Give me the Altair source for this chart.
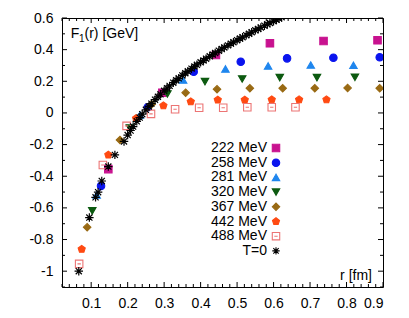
import altair as alt
import pandas as pd
import numpy as np

# ---- data ----
series_names = ["222 MeV", "258 MeV", "281 MeV", "320 MeV", "367 MeV", "442 MeV", "488 MeV", "T=0"]

r_222 = [0.147, 0.295, 0.442, 0.590, 0.737, 0.885]
f_222 = [-0.355, 0.128, 0.366, 0.440, 0.455, 0.459]

r_258 = [0.127, 0.255, 0.381, 0.510, 0.637, 0.764, 0.891]
f_258 = [-0.461, 0.036, 0.261, 0.324, 0.345, 0.349, 0.352]

r_281 = [0.115, 0.234, 0.352, 0.468, 0.585, 0.702, 0.819]
f_281 = [-0.518, -0.013, 0.208, 0.278, 0.297, 0.303, 0.301]

r_320 = [0.103, 0.206, 0.309, 0.412, 0.514, 0.617, 0.719, 0.823]
f_320 = [-0.619, -0.095, 0.120, 0.198, 0.215, 0.223, 0.223, 0.225]

r_367 = [0.089, 0.179, 0.266, 0.359, 0.445, 0.535, 0.625, 0.713, 0.803, 0.891]
f_367 = [-0.722, -0.171, 0.055, 0.128, 0.150, 0.156, 0.156, 0.156, 0.158, 0.156]

r_442 = [0.074, 0.147, 0.223, 0.298, 0.373, 0.447, 0.521, 0.595, 0.670, 0.745]
f_442 = [-0.861, -0.265, -0.034, 0.046, 0.071, 0.082, 0.082, 0.084, 0.084, 0.084]

r_488 = [0.067, 0.132, 0.197, 0.264, 0.330, 0.396, 0.462, 0.528, 0.595, 0.660]
f_488 = [-0.954, -0.329, -0.082, -0.006, 0.023, 0.033, 0.033, 0.036, 0.036, 0.036]

r_t0 = [0.066, 0.095, 0.112, 0.119, 0.129, 0.147, 0.165, 0.190, 0.200, 0.208,
        0.215, 0.225, 0.233, 0.240, 0.250, 0.258, 0.265, 0.275, 0.283, 0.290,
        0.300, 0.308, 0.315, 0.325, 0.333, 0.340, 0.350, 0.358, 0.365, 0.375,
        0.383, 0.390, 0.400, 0.408, 0.415, 0.425, 0.433, 0.440, 0.450, 0.458,
        0.465, 0.475, 0.483, 0.490, 0.500, 0.508, 0.515, 0.525, 0.533, 0.540,
        0.550, 0.558, 0.565, 0.575, 0.583, 0.590, 0.600, 0.608, 0.615, 0.622]
f_t0 = [-1.000, -0.661, -0.533, -0.501, -0.430, -0.339, -0.265, -0.180, -0.140, -0.111,
        -0.086, -0.053, -0.029, -0.008, 0.020, 0.041, 0.059, 0.084, 0.102, 0.118,
        0.140, 0.156, 0.171, 0.191, 0.206, 0.219, 0.237, 0.251, 0.263, 0.280,
        0.293, 0.304, 0.320, 0.332, 0.343, 0.358, 0.369, 0.379, 0.393, 0.404,
        0.414, 0.427, 0.438, 0.447, 0.460, 0.470, 0.479, 0.491, 0.501, 0.510,
        0.522, 0.531, 0.540, 0.551, 0.560, 0.569, 0.580, 0.589, 0.597, 0.605]

x_major = [0.1, 0.2, 0.3, 0.4, 0.5, 0.6, 0.7, 0.8, 0.9]
y_major = [-1.0, -0.8, -0.6, -0.4, -0.2, 0.0, 0.2, 0.4, 0.6]
x_minor = [round(v, 2) for v in np.arange(0.02, 0.9001, 0.02) if abs(round(v * 10) - v * 10) > 1e-6]
y_minor = [-1.1, -0.9, -0.7, -0.5, -0.3, -0.1, 0.1, 0.3, 0.5]

# ---- style ----
stroke_colors = ["#c8128f", "#0a14ee", "#1f86ee", "#0c5a10", "#996a14", "#ff4a12", "#ec7474", "#000000"]
fill_colors = ["#c8128f", "#0a14ee", "#1f86ee", "#0c5a10", "#996a14", "#ff4a12", "transparent", "transparent"]
PENT = "M0,-1L0.951,-0.309L0.588,0.809L-0.588,0.809L-0.951,-0.309Z"
OPENSQ = "M-1,-1L1,-1L1,1L-1,1Z M-0.45,0L0.45,0"
AST = "M-1,0L1,0M0,-1L0,1M-0.72,-0.72L0.72,0.72M-0.72,0.72L0.72,-0.72"
shapes = ["square", "circle", "triangle-up", "triangle-down", "diamond", PENT, OPENSQ, AST]

W, H = 321, 269
FONT = "Liberation Sans"

rows = []
for name, rs, fs in [
    (series_names[0], r_222, f_222), (series_names[1], r_258, f_258),
    (series_names[2], r_281, f_281), (series_names[3], r_320, f_320),
    (series_names[4], r_367, f_367), (series_names[5], r_442, f_442),
    (series_names[6], r_488, f_488), (series_names[7], r_t0, f_t0)]:
    for r, f in zip(rs, fs):
        rows.append({"series": name, "r": r, "F": f})
df = pd.DataFrame(rows)

xs = alt.Scale(domain=[0.02, 0.9], nice=False, zero=False)
ys = alt.Scale(domain=[-1.1, 0.6], nice=False, zero=False)
xaxis = alt.Axis(values=x_major, labelExpr="datum.value + ''", ticks=False, domain=False,
                 grid=False, labelFont=FONT, labelFontSize=14, labelColor="#000",
                 labelPadding=9, title=None)
yaxis = alt.Axis(values=y_major, labelExpr="datum.value + ''", ticks=False, domain=False,
                 grid=False, labelFont=FONT, labelFontSize=14, labelColor="#000",
                 labelPadding=9, title=None)

enc = dict(
    x=alt.X("r:Q", scale=xs, axis=xaxis, title=None),
    y=alt.Y("F:Q", scale=ys, axis=yaxis, title=None),
    fill=alt.Fill("series:N", scale=alt.Scale(domain=series_names, range=fill_colors), title=None),
    stroke=alt.Stroke("series:N", scale=alt.Scale(domain=series_names, range=stroke_colors), title=None),
    shape=alt.Shape("series:N", scale=alt.Scale(domain=series_names, range=shapes), title=None),
)

base = alt.Chart(df)
pts_t0 = base.transform_filter(alt.datum.series == "T=0").mark_point(
    size=72, opacity=1, strokeWidth=1.2, clip=True).encode(**enc)
pts_ft = base.transform_filter(alt.datum.series != "T=0").mark_point(
    size=56, opacity=1, strokeWidth=1.1, clip=True).encode(**enc)

def xticks(vals, y0, y1):
    return alt.Chart(pd.DataFrame({"r": vals})).mark_rule(color="black", strokeWidth=1).encode(
        x=alt.X("r:Q", scale=xs, axis=xaxis, title=None), y=alt.value(y0), y2=alt.value(y1))

def yticks(vals, x0, x1):
    return alt.Chart(pd.DataFrame({"F": vals})).mark_rule(color="black", strokeWidth=1).encode(
        y=alt.Y("F:Q", scale=ys, axis=yaxis, title=None), x=alt.value(x0), x2=alt.value(x1))

ML, mL = 5, 3
ticks = [
    xticks(x_major, H, H - ML), xticks(x_major, 0, ML),
    xticks(x_minor, H, H - mL), xticks(x_minor, 0, mL),
    yticks(y_major, 0, ML), yticks(y_major, W, W - ML),
    yticks(y_minor, 0, mL), yticks(y_minor, W, W - mL),
]

def label(text, x, y, size=14, align="left"):
    return alt.Chart(pd.DataFrame({"t": [text]})).mark_text(
        font=FONT, fontSize=size, align=align, baseline="alphabetic", color="black"
    ).encode(text="t:N", x=alt.value(x), y=alt.value(y))

texts = [
    label("F", 8.7, 20.3),
    label("1", 17.0, 24.0, size=10),
    label("(r) [GeV]", 22.5, 20.3),
    label("r [fm]", 310, 262, align="right"),
]

chart = alt.layer(pts_ft, pts_t0, *ticks, *texts).properties(
    width=W, height=H,
    autosize=alt.AutoSizeParams(type="none"),
    padding={"left": 54, "top": 10, "right": 18, "bottom": 23},
).configure_view(stroke="black", strokeWidth=1).configure_legend(
    orient="none", legendX=207, legendY=123, labelAlign="right", labelOffset={"expr": "-16"},
    labelFont=FONT, labelFontSize=14, labelColor="black", symbolSize=55,
    symbolStrokeWidth=1.1, rowPadding=0.7, padding=0, symbolType="circle",
)

chart.save("out.html", embed_options={"renderer": "svg", "actions": False})
